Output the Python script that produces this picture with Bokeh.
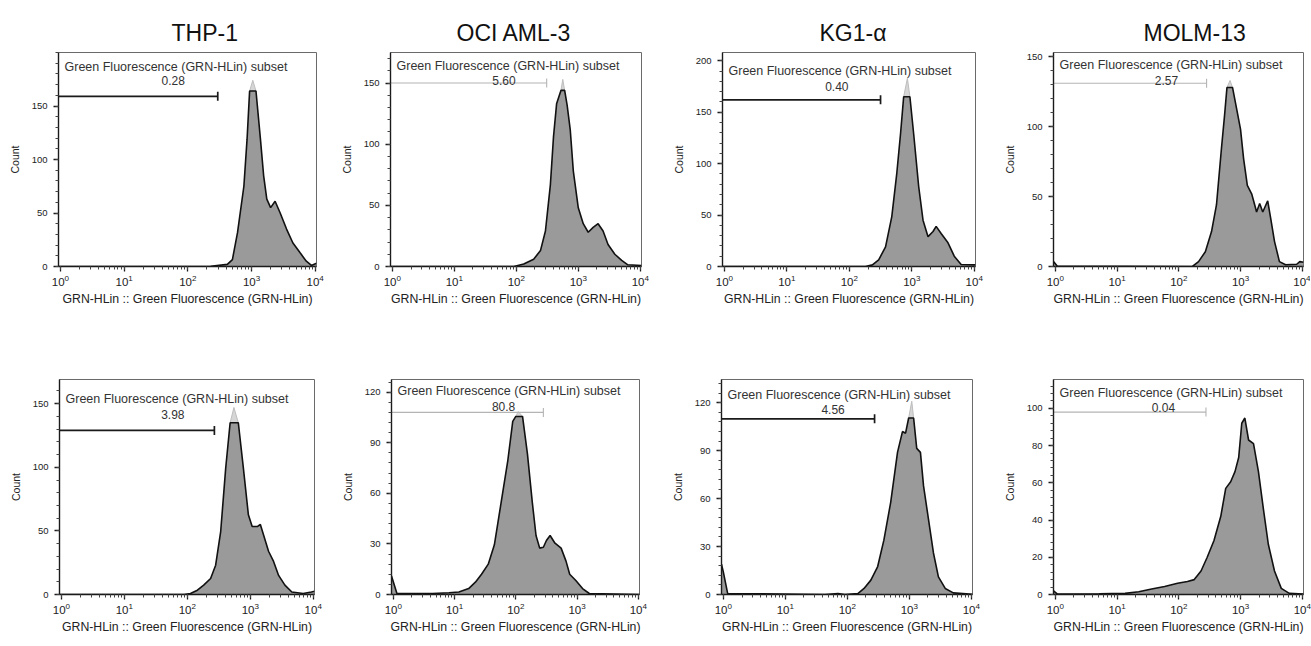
import numpy as np
from bokeh.plotting import figure
from bokeh.layouts import row, column
from bokeh.models import Label, FixedTicker, Range1d
from bokeh.embed import file_html
from bokeh.resources import INLINE

# ---------------- data ----------------
cell_lines = ["THP-1", "OCI AML-3", "KG1-\u03b1", "MOLM-13"]
x_axis_label = "GRN-HLin :: Green Fluorescence (GRN-HLin)"
y_axis_label = "Count"
gate_name = "Green Fluorescence (GRN-HLin) subset"
x_log_range = (-0.03, 4.02)

# top row (log10 fluorescence, count)
thp1_a_log = [-0.03, 2.36, 2.62, 2.70, 2.78, 2.88, 2.93, 2.97, 3.07, 3.14, 3.19, 3.24, 3.30, 3.37, 3.45, 3.55, 3.65, 3.76, 3.86, 3.94, 4.02]
thp1_a_cnt = [0, 0.3, 2, 6.5, 31.6, 75, 119, 164, 164, 119, 85, 63, 55, 61, 50, 35, 22, 13, 5, 1, 3]

oci_a_log = [-0.03, 1.96, 2.12, 2.28, 2.39, 2.47, 2.55, 2.60, 2.65, 2.72, 2.78, 2.82, 2.87, 2.92, 3.00, 3.08, 3.16, 3.24, 3.32, 3.40, 3.48, 3.59, 3.70, 3.80, 4.02]
oci_a_cnt = [0, 0, 2, 6, 13, 29, 67, 106, 133, 144, 144, 132, 112, 78, 48, 35, 28, 32, 35, 29, 18, 10, 5, 1.4, 0.8]

kg1_a_log = [-0.03, 2.26, 2.37, 2.47, 2.58, 2.68, 2.76, 2.82, 2.87, 2.97, 3.03, 3.11, 3.18, 3.26, 3.34, 3.39, 3.47, 3.58, 3.68, 3.79, 4.02]
kg1_a_cnt = [0, 0, 1.6, 6.5, 19, 48.5, 90.6, 129, 165, 165, 129, 78, 45, 29, 34, 39, 32, 23, 10, 2, 1.6]

molm_a_log = [-0.03, 0.03, 2.22, 2.32, 2.43, 2.53, 2.61, 2.69, 2.74, 2.78, 2.87, 2.94, 3.00, 3.05, 3.11, 3.18, 3.23, 3.26, 3.31, 3.36, 3.44, 3.49, 3.55, 3.63, 3.73, 3.91, 3.96, 4.02]
molm_a_cnt = [3.5, 0.3, 0, 3.5, 10.6, 25, 44, 84, 107.5, 128, 128, 112, 98, 77, 58, 52, 44, 39, 45, 39, 47, 34, 18, 3.5, 1.2, 1.6, 3.5, 3]

# bottom row
thp1_b_log = [-0.03, 1.95, 2.05, 2.16, 2.26, 2.37, 2.45, 2.53, 2.61, 2.68, 2.81, 2.89, 2.97, 3.03, 3.11, 3.16, 3.21, 3.29, 3.37, 3.45, 3.55, 3.66, 3.84, 3.97, 4.02]
thp1_b_cnt = [0, 0, 0.8, 3.4, 7.4, 12.6, 23, 49.5, 99.5, 135, 135, 99.5, 62.6, 53.4, 53.4, 55, 47, 34, 26, 15, 7.4, 2, 0.8, 2, 2.5]

oci_b_log = [-0.03, 0.06, 0.64, 0.91, 1.07, 1.23, 1.34, 1.44, 1.55, 1.65, 1.76, 1.87, 1.95, 2.00, 2.11, 2.19, 2.27, 2.33, 2.39, 2.45, 2.50, 2.56, 2.64, 2.74, 2.82, 2.88, 2.98, 3.09, 3.20, 4.02]
oci_b_cnt = [11, 0.5, 0.6, 1, 1.5, 3.5, 7.3, 12, 18, 29.5, 54.5, 79.6, 102.7, 105.6, 105.6, 83.4, 54.5, 35, 27.5, 28, 32, 35, 30.4, 27.5, 19.8, 12, 8.3, 3.5, 0.6, 0]

kg1_b_log = [-0.03, 0.0, 0.07, 1.64, 1.85, 1.96, 2.17, 2.27, 2.38, 2.49, 2.59, 2.70, 2.81, 2.89, 2.94, 2.99, 3.07, 3.12, 3.18, 3.23, 3.31, 3.39, 3.47, 3.58, 3.71, 4.02]
kg1_b_cnt = [19, 14, 0.6, 0, 0.6, 0, 0.6, 3.8, 9, 17.5, 34, 57.7, 89, 102, 101, 110.5, 110.5, 91.5, 89, 68, 47, 26, 11, 3.8, 1, 0.2]

molm_b_log = [-0.03, 0.03, 0.71, 1.13, 1.35, 1.56, 1.77, 1.98, 2.14, 2.25, 2.36, 2.46, 2.57, 2.68, 2.76, 2.84, 2.91, 2.97, 3.02, 3.07, 3.13, 3.21, 3.29, 3.37, 3.45, 3.55, 3.66, 3.79, 4.02]
molm_b_cnt = [2, 0.3, 0.4, 0.6, 1.5, 3, 4.3, 6, 7, 8, 12.6, 20, 29, 42, 57, 60.6, 66, 73.6, 92, 94.8, 83, 81, 66, 46, 27, 12.6, 3.3, 0.6, 0.3]

series_log = [thp1_a_log, oci_a_log, kg1_a_log, molm_a_log, thp1_b_log, oci_b_log, kg1_b_log, molm_b_log]
series_cnt = [thp1_a_cnt, oci_a_cnt, kg1_a_cnt, molm_a_cnt, thp1_b_cnt, oci_b_cnt, kg1_b_cnt, molm_b_cnt]

# clipped peak tips (log position, count); None = no tip
peak_tip_log = [3.02, 2.75, 2.93, 2.83, 2.74, 2.04, 3.04, None]
peak_tip_cnt = [174, 153, 183, 133, 147, 108.5, 121, None]

y_max = [200, 175, 208, 153, 169, 127.5, 134.6, 115.5]
y_major = [[0, 50, 100, 150], [0, 50, 100, 150], [0, 50, 100, 150, 200], [0, 50, 100, 150],
           [0, 50, 100, 150], [0, 30, 60, 90, 120], [0, 30, 60, 90, 120], [0, 20, 40, 60, 80, 100]]

gate_pct = ["0.28", "5.60", "0.40", "2.57", "3.98", "80.8", "4.56", "0.04"]
gate_end_log = [2.47, 2.49, 2.50, 2.45, 2.43, 2.45, 2.44, 2.44]
gate_count = [159, 150, 162, 131, 129, 108, 110, 98]
gate_label_log = [1.77, 1.80, 1.80, 1.80, 1.77, 1.80, 1.77, 1.75]

# ---------------- styles / layout ----------------
FONT = "Liberation Sans"
gate_dark = [True, False, True, False, True, False, True, False]
value_dy = [16, 3, 13, 3, 16, 6, 9, 5]
subset_dy = [29, 17, 29, 18, 31, 21, 24, 19]

frame_w = [258, 251, 253, 250, 255, 248, 251, 250]
border_l = [58, 51, 51, 51, 59, 51, 51, 51]
border_r = [21, 28, 25, 7, 24, 29, 28, 8]
row_top = [52, 65]
row_frame_h = [214, 215]
row_bottom = [48, 48]
title_offset = [113, 66, 97, 90]


def build(i):
    r = 0 if i < 4 else 1
    xlo, xhi = 10 ** x_log_range[0], 10 ** x_log_range[1]
    p = figure(x_axis_type="log", x_range=Range1d(xlo, xhi), y_range=Range1d(0, y_max[i]),
               frame_width=frame_w[i], frame_height=row_frame_h[r],
               min_border_left=border_l[i], min_border_right=border_r[i],
               min_border_top=row_top[r], min_border_bottom=row_bottom[r],
               output_backend="svg", toolbar_location=None,
               title=cell_lines[i] if i < 4 else "")
    p.background_fill_color = "white"
    p.border_fill_color = "white"
    p.outline_line_color = "#6a6a6a"
    p.outline_line_width = 1
    p.grid.visible = False
    if i < 4:
        p.title.text_font = FONT
        p.title.text_font_size = "23px"
        p.title.text_font_style = "normal"
        p.title.text_color = "#111111"
        p.title.align = "left"
        p.title.offset = title_offset[i]
        p.title.standoff = 14

    xs = [10 ** v for v in series_log[i]]
    ys = series_cnt[i]

    # clipped peak tip
    if peak_tip_log[i] is not None:
        top = max(ys)
        idx = [k for k, v in enumerate(ys) if v == top]
        p.patch([xs[idx[0]], 10 ** peak_tip_log[i], xs[idx[-1]]], [top, peak_tip_cnt[i], top],
                fill_color="#d6d6d6", line_color="#bdbdbd", line_width=1)

    p.varea(x=xs, y1=[0] * len(xs), y2=ys, fill_color="#9a9a9a")
    p.line(xs, ys, line_color="#111111", line_width=1.6)

    # gate
    gc = "#1a1a1a" if gate_dark[i] else "#b4b4b4"
    gw = 1.7 if gate_dark[i] else 1.1
    gx_end = 10 ** gate_end_log[i]
    p.line([xlo, gx_end], [gate_count[i], gate_count[i]], line_color=gc, line_width=gw)
    p.scatter([gx_end], [gate_count[i]], marker="dash", angle=np.pi / 2, size=9,
              line_color=gc, line_width=gw)
    p.add_layout(Label(x=10 ** gate_label_log[i], y=gate_count[i], y_offset=value_dy[i],
                       text=gate_pct[i], text_align="center", text_baseline="middle",
                       text_font=FONT, text_font_size="12px", text_color="#333333"))
    p.add_layout(Label(x=xlo, y=gate_count[i], x_offset=6, y_offset=subset_dy[i],
                       text=gate_name, text_align="left", text_baseline="middle",
                       text_font=FONT, text_font_size="12.5px", text_color="#333333"))

    # axes
    p.xaxis.axis_label = x_axis_label
    p.yaxis.axis_label = y_axis_label
    step = y_major[i][1] - y_major[i][0]
    minors = list(np.arange(0, y_max[i] + 0.001, step / 5.0))
    p.yaxis.ticker = FixedTicker(ticks=y_major[i], minor_ticks=minors)
    for ax in (p.xaxis[0], p.yaxis[0]):
        ax.axis_line_color = "#1a1a1a"
        ax.axis_line_width = 1.4
        ax.major_tick_line_color = "#1a1a1a"
        ax.major_tick_line_width = 1.3
        ax.major_tick_out = 5
        ax.major_tick_in = 0
        ax.minor_tick_line_color = "#444444"
        ax.minor_tick_out = 3
        ax.minor_tick_in = 0
        ax.major_label_text_color = "#222222"
        ax.major_label_text_font = FONT
        ax.axis_label_text_font = FONT
        ax.axis_label_text_font_style = "normal"
        ax.axis_label_text_color = "#222222"
    p.xaxis.axis_label_text_font_size = "12.3px"
    p.yaxis.axis_label_text_font_size = "10.5px"
    p.xaxis.major_label_text_font_size = "11.5px"
    p.yaxis.major_label_text_font_size = "9.5px"
    p.xaxis.major_label_standoff = 3
    p.xaxis.axis_label_standoff = 3
    p.yaxis.major_label_standoff = 6
    p.yaxis.axis_label_standoff = 8
    return p


figs = [build(i) for i in range(8)]
layout = column(row(*figs[:4]), row(*figs[4:]))
open("out.html", "w").write(file_html(layout, INLINE))
